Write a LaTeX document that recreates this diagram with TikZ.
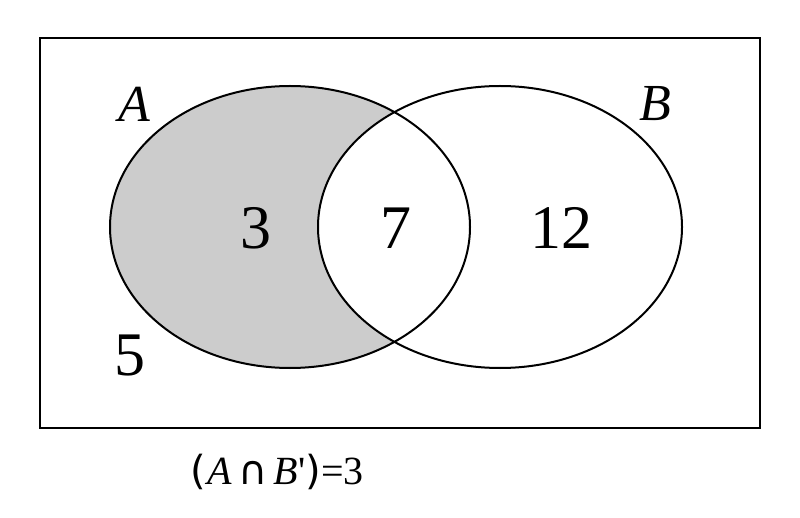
\documentclass[tikz,border=0pt]{standalone}
\usepackage{fontspec}
\setmainfont{Liberation Serif}
\newfontfamily\symfont{DejaVu Sans}
\newfontfamily\qfont[Ligatures=TeXOff]{Liberation Serif}
\begin{document}
\begin{tikzpicture}[x=1pt,y=-1pt,
  setline/.style={draw=black,line width=2pt},
  num/.style={font=\fontsize{62}{70}\selectfont},
  lab/.style={font=\fontsize{52}{60}\itshape\selectfont}]
\useasboundingbox[fill=white] (0,0) rectangle (800,518);
\node[draw=black,line width=2pt,minimum width=720pt,minimum height=390pt,inner sep=0pt] (U) at (400,233) {};
\begin{scope}
  \clip (290,227) ellipse [x radius=180, y radius=141];
  \fill[black!20] (290,227) ellipse [x radius=180, y radius=141];
  \fill[white] (500,227) ellipse [x radius=182, y radius=141];
\end{scope}
\draw[setline] (290,227) ellipse [x radius=180, y radius=141];
\draw[setline] (500,227) ellipse [x radius=182, y radius=141];
\node[num] (n3) at (256,228) {3};
\node[num] (n7) at (396,228) {7};
\node[num] (n12) at (561,228) {12};
\node[num] (n5) at (130,356) {5};
\node[lab] (A) at (134,104) {A};
\node[lab] (B) at (655,104) {B};
\node[font=\fontsize{40}{46}\selectfont] (eq) at (277,472) {{\symfont(}\hspace{2pt}\textit{A}\hspace{6pt}{\symfont∩}\hspace{6pt}\textit{B}{\qfont'}{\symfont)}=3};
\end{tikzpicture}
\end{document}
